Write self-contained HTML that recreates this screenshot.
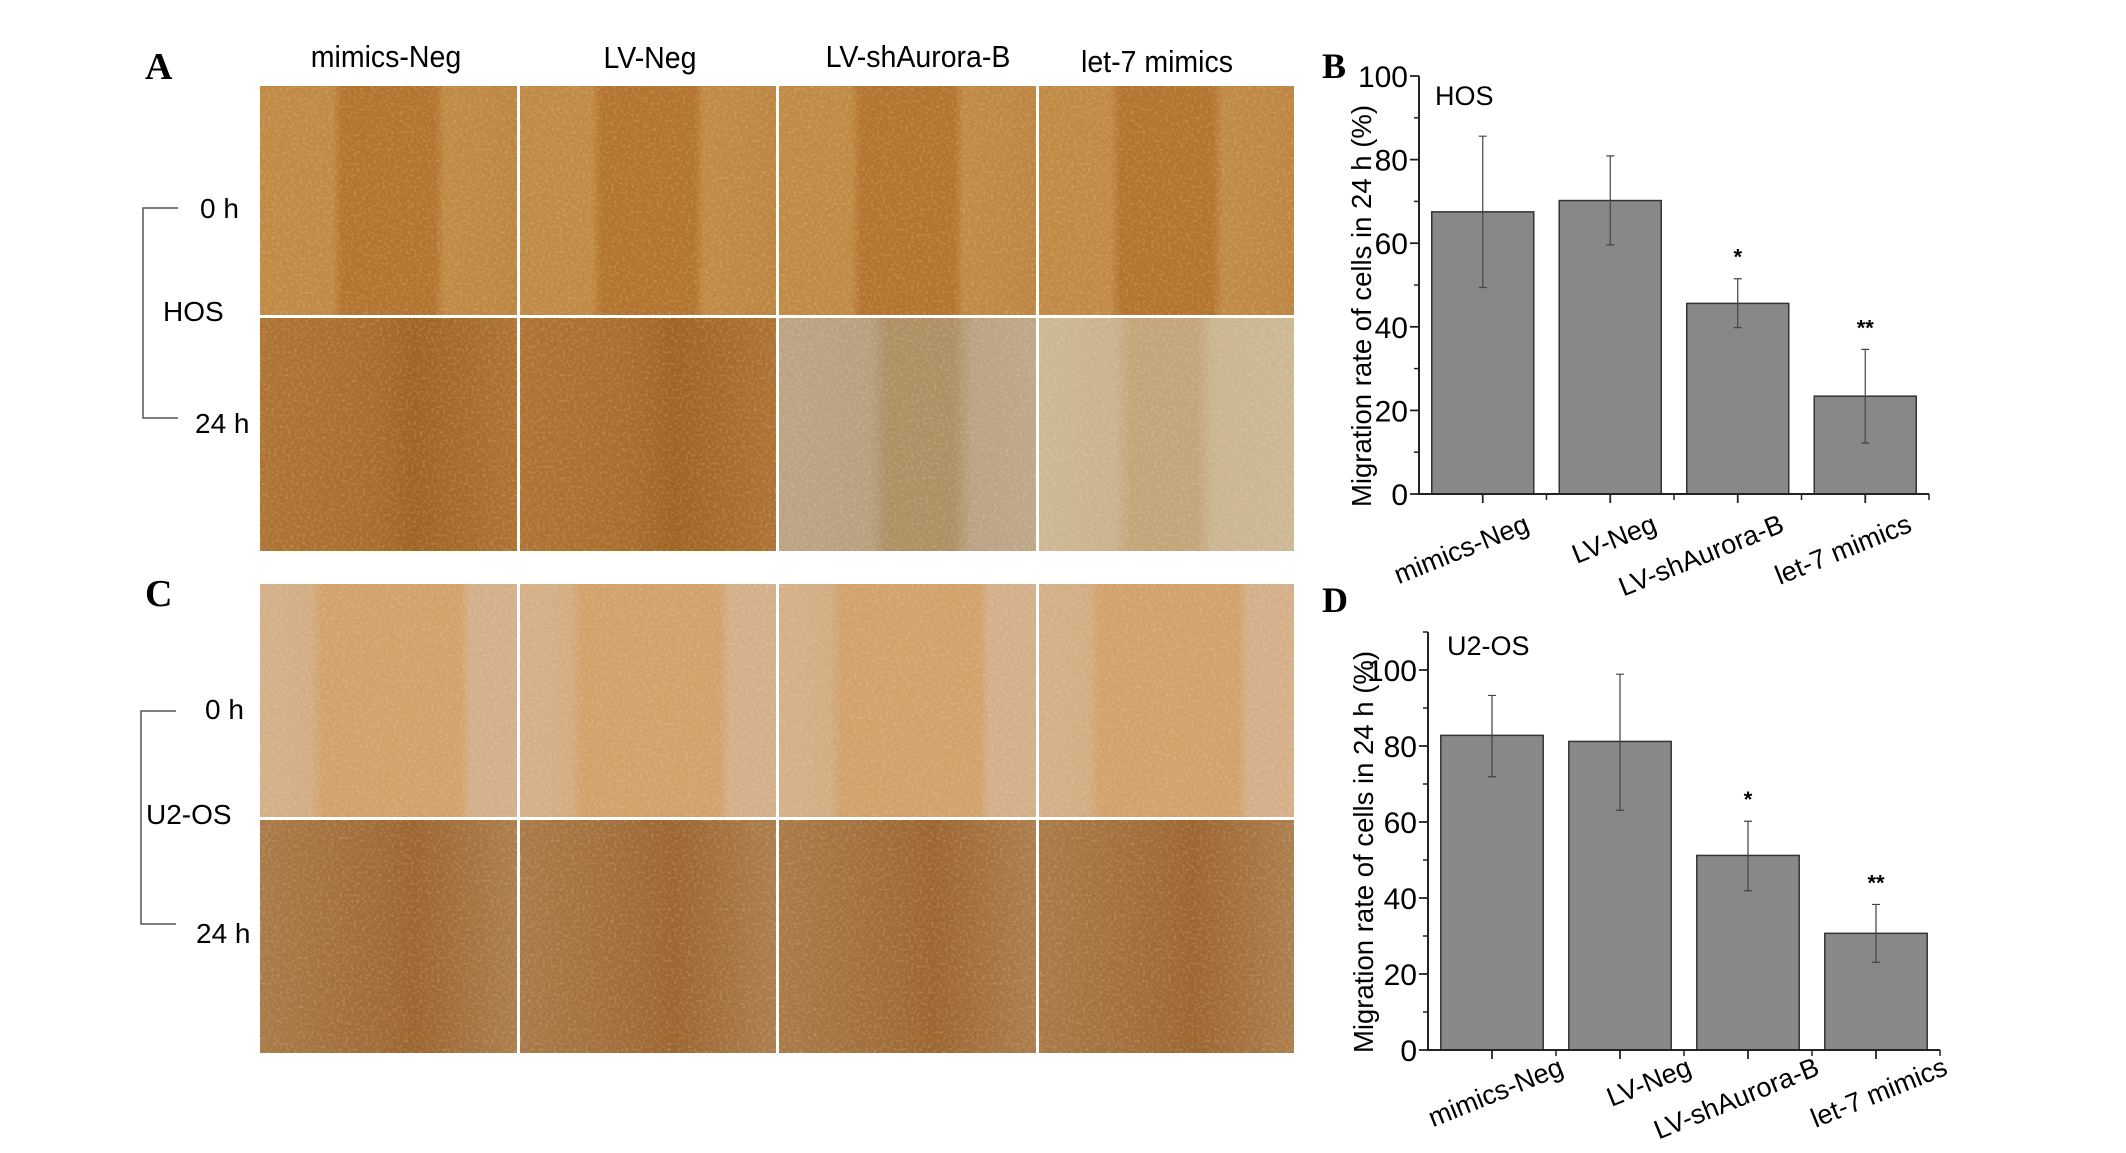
<!DOCTYPE html>
<html><head><meta charset="utf-8"><style>
html,body{margin:0;padding:0;background:#fff;}
svg{display:block;font-family:"Liberation Sans",sans-serif;}
</style></head><body>
<svg id="fig" width="2126" height="1153" viewBox="0 0 2126 1153" xmlns="http://www.w3.org/2000/svg">
<defs>
<linearGradient id="gA0" x1="0" x2="1" y1="0" y2="0">
<stop offset="0" stop-color="#c08a45"/><stop offset="0.28" stop-color="#c08a45"/><stop offset="0.32" stop-color="#b3742f"/><stop offset="0.68" stop-color="#b3742f"/><stop offset="0.72" stop-color="#c08a45"/><stop offset="1" stop-color="#bd8542"/></linearGradient>
<linearGradient id="gA1" x1="0" x2="1" y1="0" y2="0">
<stop offset="0" stop-color="#ae7434"/><stop offset="0.45" stop-color="#a96c2c"/><stop offset="0.6" stop-color="#9f6424"/><stop offset="1" stop-color="#ad7333"/></linearGradient>
<linearGradient id="gA2" x1="0" x2="1" y1="0" y2="0">
<stop offset="0" stop-color="#bca384"/><stop offset="0.35" stop-color="#b8a07f"/><stop offset="0.42" stop-color="#ae9064"/><stop offset="0.68" stop-color="#ae9064"/><stop offset="0.75" stop-color="#bba285"/><stop offset="1" stop-color="#bfa889"/></linearGradient>
<linearGradient id="gA3" x1="0" x2="1" y1="0" y2="0">
<stop offset="0" stop-color="#cdb896"/><stop offset="0.3" stop-color="#c9b28e"/><stop offset="0.36" stop-color="#c4a57a"/><stop offset="0.62" stop-color="#c4a57a"/><stop offset="0.68" stop-color="#cbb592"/><stop offset="1" stop-color="#cdb896"/></linearGradient>
<linearGradient id="gC0" x1="0" x2="1" y1="0" y2="0">
<stop offset="0" stop-color="#d4b08a"/><stop offset="0.2" stop-color="#d3ac82"/><stop offset="0.24" stop-color="#d2a26a"/><stop offset="0.78" stop-color="#d2a26a"/><stop offset="0.82" stop-color="#d4b08a"/><stop offset="1" stop-color="#d4b08a"/></linearGradient>
<linearGradient id="gC1" x1="0" x2="1" y1="0" y2="0">
<stop offset="0" stop-color="#a97a48"/><stop offset="0.45" stop-color="#a06c38"/><stop offset="0.6" stop-color="#9c6530"/><stop offset="1" stop-color="#ac7e4e"/></linearGradient>
<filter id="grain" x="0" y="0" width="100%" height="100%">
<feTurbulence type="fractalNoise" baseFrequency="0.35" numOctaves="2" seed="3" result="n"/>
<feColorMatrix type="matrix" values="0 0 0 0 1  0 0 0 0 0.9  0 0 0 0 0.7  0 0 0 1.6 -0.75"/>
</filter>
</defs>
<g id="photos"></g>
<g id="leftlabels">
<text x="145" y="79" font-family="Liberation Serif,serif" font-weight="bold" font-size="38">A</text>
<text x="145" y="606" font-family="Liberation Serif,serif" font-weight="bold" font-size="38">C</text>
<text x="386" y="67" font-size="31" text-anchor="middle" transform="translate(386 0) scale(0.92 1) translate(-386 0)">mimics-Neg</text>
<text x="650" y="68" font-size="31" text-anchor="middle" transform="translate(650 0) scale(0.92 1) translate(-650 0)">LV-Neg</text>
<text x="918" y="67" font-size="31" text-anchor="middle" transform="translate(918 0) scale(0.92 1) translate(-918 0)">LV-shAurora-B</text>
<text x="1157" y="72" font-size="31" text-anchor="middle" transform="translate(1157 0) scale(0.92 1) translate(-1157 0)">let-7 mimics</text>
<path d="M178 208 H143 V418 H178" fill="none" stroke="#555" stroke-width="1.5"/>
<text x="200" y="218" font-size="28">0 h</text>
<text x="163" y="321" font-size="28">HOS</text>
<text x="195" y="433" font-size="28">24 h</text>
<path d="M176 720 H141 V933 H176" fill="none" stroke="#555" stroke-width="1.5" transform="translate(0 -9)"/>
<text x="205" y="719" font-size="28">0 h</text>
<text x="146" y="824" font-size="28">U2-OS</text>
<text x="196" y="943" font-size="28">24 h</text>
</g>
<g id="chartB"></g>
<g id="chartD"></g>
</svg>
<script>
const categories = ["mimics-Neg", "LV-Neg", "LV-shAurora-B", "let-7 mimics"];
const hosValues = [67.5, 70.2, 45.6, 23.4];
const hosErrHigh = [85.6, 80.9, 51.5, 34.6];
const hosErrLow = [49.4, 59.6, 39.8, 12.2];
const hosStars = ["", "", "*", "**"];
const u2osValues = [82.8, 81.2, 51.2, 30.7];
const u2osErrHigh = [93.3, 98.9, 60.2, 38.3];
const u2osErrLow = [71.9, 63.1, 41.9, 23.1];
const u2osStars = ["", "", "*", "**"];
const hosTicks = [0, 20, 40, 60, 80, 100];
const u2osTicks = [0, 20, 40, 60, 80, 100];

const NS = "http://www.w3.org/2000/svg";
function mk(parent, tag, attrs, text) {
  const e = document.createElementNS(NS, tag);
  for (const k in attrs) e.setAttribute(k, attrs[k]);
  if (text !== undefined) e.textContent = text;
  parent.appendChild(e);
  return e;
}

const photos = document.getElementById('photos');
const colX = [259, 519, 778, 1038, 1296];
const rowsY = [[85, 317, 553], [583, 819, 1055]];
const fillsA = [["url(#gA0)", "url(#gA0)", "url(#gA0)", "url(#gA0)"], ["url(#gA1)", "url(#gA1)", "url(#gA2)", "url(#gA3)"]];
const fillsC = [["url(#gC0)", "url(#gC0)", "url(#gC0)", "url(#gC0)"], ["url(#gC1)", "url(#gC1)", "url(#gC1)", "url(#gC1)"]];
for (let p = 0; p < 2; p++) {
  for (let r = 0; r < 2; r++) {
    for (let c = 0; c < 4; c++) {
      const f = (p === 0 ? fillsA : fillsC)[r][c];
      const geo = {x: colX[c] + 1, y: rowsY[p][r] + 1, width: colX[c + 1] - colX[c] - 3, height: rowsY[p][r + 1] - rowsY[p][r] - 3};
      const rect = mk(photos, 'rect', Object.assign({fill: f}, geo));
      
      
      const tex = mk(photos, 'rect', Object.assign({fill: '#fff', filter: 'url(#grain)', opacity: 0.35}, geo));
      
      
    }
  }
}

function drawChart(gid, o) {
  const g = document.getElementById(gid);
  const yScale = v => o.y0 - (v / 100) * (o.y0 - o.y100);
  const band = (o.xEnd - o.x0) / o.cats.length;
  const xCenter = i => o.x0 + band * (i + 0.5);
  const bw = band * 0.8;
  o.vals.forEach((v, i) => {
    const b = mk(g, 'rect', {x: xCenter(i) - bw / 2, y: yScale(v), width: bw, height: yScale(0) - yScale(v), fill: '#888888', stroke: '#333', 'stroke-width': 1.5});
    
    
    const eb = mk(g, 'path', {d: `M${xCenter(i)} ${yScale(o.hi[i])} V${yScale(o.lo[i])} M${xCenter(i) - 4} ${yScale(o.hi[i])} H${xCenter(i) + 4} M${xCenter(i) - 4} ${yScale(o.lo[i])} H${xCenter(i) + 4}`, stroke: '#444', 'stroke-width': 1.2, fill: 'none'});
    
    
    if (o.stars[i]) {
      const s = mk(g, 'text', {x: xCenter(i), y: yScale(o.hi[i]) - 14, 'font-size': 22, 'font-weight': 'bold', 'text-anchor': 'middle'}, o.stars[i]);
      
      
    }
  });
  const ax = mk(g, 'path', {d: `M${o.x0} ${yScale(o.yTop)} V${o.y0} H${o.xEnd}`, stroke: '#222', 'stroke-width': 2, fill: 'none'});
  
  
  for (let t = 10; t <= o.yTop; t += 20) {
    const mt = mk(g, 'line', {x1: o.x0 - 5, x2: o.x0, y1: yScale(t), y2: yScale(t), stroke: '#222', 'stroke-width': 1.5});
    
    
  }
  o.ticks.forEach(t => {
    const tl = mk(g, 'line', {x1: o.x0 - 9, x2: o.x0, y1: yScale(t), y2: yScale(t), stroke: '#222', 'stroke-width': 1.8});
    
    
    const tx = mk(g, 'text', {x: o.x0 - 11, y: yScale(t) + 11, 'font-size': 30, 'text-anchor': 'end'}, String(t));
    
    
  });
  o.cats.forEach((c, i) => {
    const tk = mk(g, 'line', {x1: xCenter(i), x2: xCenter(i), y1: o.y0, y2: o.y0 + 9, stroke: '#222', 'stroke-width': 1.8});
    
    
    const mt = mk(g, 'line', {x1: o.x0 + band * (i + 1), x2: o.x0 + band * (i + 1), y1: o.y0, y2: o.y0 + 6, stroke: '#222', 'stroke-width': 1.5});
    
    
    const ex = xCenter(i) + 48 + o.lblDx, ey = o.y0 + 40 + o.lblDy;
    const lb = mk(g, 'text', {x: ex, y: ey, 'font-size': 27, 'text-anchor': 'end', transform: `rotate(-22 ${ex} ${ey})`}, c);
    
    
  });
  const yt = mk(g, 'text', {x: o.titleX, y: o.titleY, 'font-size': 27.5, 'text-anchor': 'middle', transform: `rotate(-90 ${o.titleX} ${o.titleY})`}, 'Migration rate of cells in 24 h (%)');
  
  
  const nm = mk(g, 'text', {x: o.nameX, y: o.nameY, 'font-size': 27}, o.name);
  
  
  const pl = mk(g, 'text', {x: o.plX, y: o.plY, 'font-size': 36, 'font-weight': 'bold', 'font-family': 'Liberation Serif,serif'}, o.panel);
  
  
}

drawChart('chartB', {cats: categories, vals: hosValues, hi: hosErrHigh, lo: hosErrLow, stars: hosStars, ticks: hosTicks,
  x0: 1419, xEnd: 1929, y0: 494, y100: 76, yTop: 100, titleX: 1371, titleY: 306, name: 'HOS', nameX: 1435, nameY: 105, panel: 'B', plX: 1322, plY: 78, lblDx: 0, lblDy: -3});
drawChart('chartD', {cats: categories, vals: u2osValues, hi: u2osErrHigh, lo: u2osErrLow, stars: u2osStars, ticks: u2osTicks,
  x0: 1428, xEnd: 1940, y0: 1050, y100: 670, yTop: 110, titleX: 1373, titleY: 852, name: 'U2-OS', nameX: 1447, nameY: 655, panel: 'D', plX: 1322, plY: 612, lblDx: 25, lblDy: -16});
</script>
</body></html>
